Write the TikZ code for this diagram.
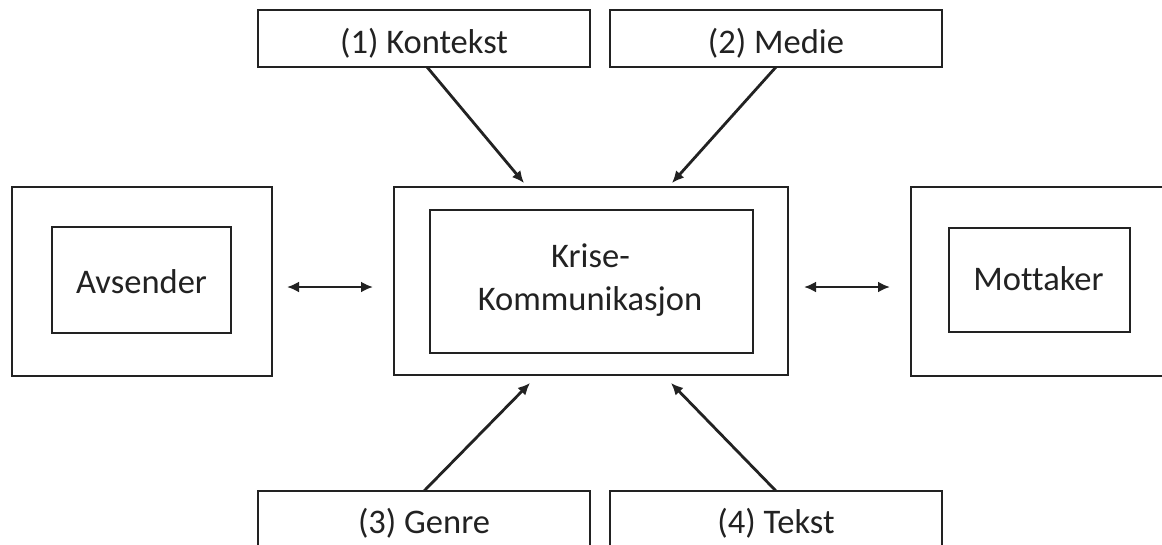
\documentclass[tikz,border=0pt]{standalone}
\usepackage{fontspec}
\setmainfont{Carlito}[Ligatures=NoCommon]
\usetikzlibrary{arrows.meta}
\definecolor{ink}{HTML}{222222}
\begin{document}
\begin{tikzpicture}[x=1pt,y=-1pt,
  frame/.style={draw=ink, line width=2pt, inner sep=0pt, outer sep=0pt, rectangle},
  lbl/.style={anchor=base, inner sep=0pt, text=ink, font=\fontsize{34.5}{42}\selectfont},
  arr/.style={draw=ink, line width=2.8pt, -{Latex[length=12pt,width=11pt]}},
  darr/.style={draw=ink, line width=2.8pt, {Latex[length=12pt,width=11pt]}-{Latex[length=12pt,width=11pt]}}
]
\useasboundingbox (0,0) rectangle (1162,544);
\fill[white] (0,0) rectangle (1162,544);

% top and bottom boxes
\node[frame, minimum width=332pt, minimum height=57pt] (k1) at (424,38.5) {};
\node[frame, minimum width=332pt, minimum height=57pt] (k2) at (776,38.5) {};
\node[frame, minimum width=332pt, minimum height=57pt] (k3) at (424,519.5) {};
\node[frame, minimum width=332pt, minimum height=57pt] (k4) at (776,519.5) {};
\node[lbl] (t1) at (424,53) {(1) Kontekst};
\node[lbl] (t2) at (776,53) {(2) Medie};
\node[lbl] (t3) at (424,533) {(3) Genre};
\node[lbl] (t4) at (776,533) {(4) Tekst};

% left
\node[frame, minimum width=260pt, minimum height=189pt] (lout) at (142,281.5) {};
\node[frame, minimum width=179pt, minimum height=106pt] (lin) at (141.5,280) {};
\node[lbl] (tl) at (141.5,293) {Avsender};

% center
\node[frame, minimum width=394pt, minimum height=188pt] (cout) at (591,281) {};
\node[frame, minimum width=323pt, minimum height=143pt] (cin) at (591.5,281.5) {};
\node[lbl] (tc1) at (590.5,267) {Krise-};
\node[lbl] (tc2) at (590,310) {Kommunikasjon};

% right
\node[frame, minimum width=260pt, minimum height=189pt] (rout) at (1041,281.5) {};
\node[frame, minimum width=181pt, minimum height=104pt] (rin) at (1039.5,280) {};
\node[lbl] (tr) at (1038.5,290) {Mottaker};

% arrows
\draw[arr] ([xshift=3pt]k1.south) -- ([xshift=-67pt,yshift=4pt]cout.north);
\draw[arr] (k2.south) -- ([xshift=81pt,yshift=4pt]cout.north);
\draw[arr] (k3.north) -- ([xshift=-61pt,yshift=-8pt]cout.south);
\draw[arr] (k4.north) -- ([xshift=80pt,yshift=-8pt]cout.south);

\draw[darr] ([xshift=15pt,yshift=-5.5pt]lout.east) -- ([xshift=-21pt,yshift=-6pt]cout.west);
\draw[darr] ([xshift=16pt,yshift=-6pt]cout.east) -- ([xshift=-21pt,yshift=-5.5pt]rout.west);
\end{tikzpicture}
\end{document}
